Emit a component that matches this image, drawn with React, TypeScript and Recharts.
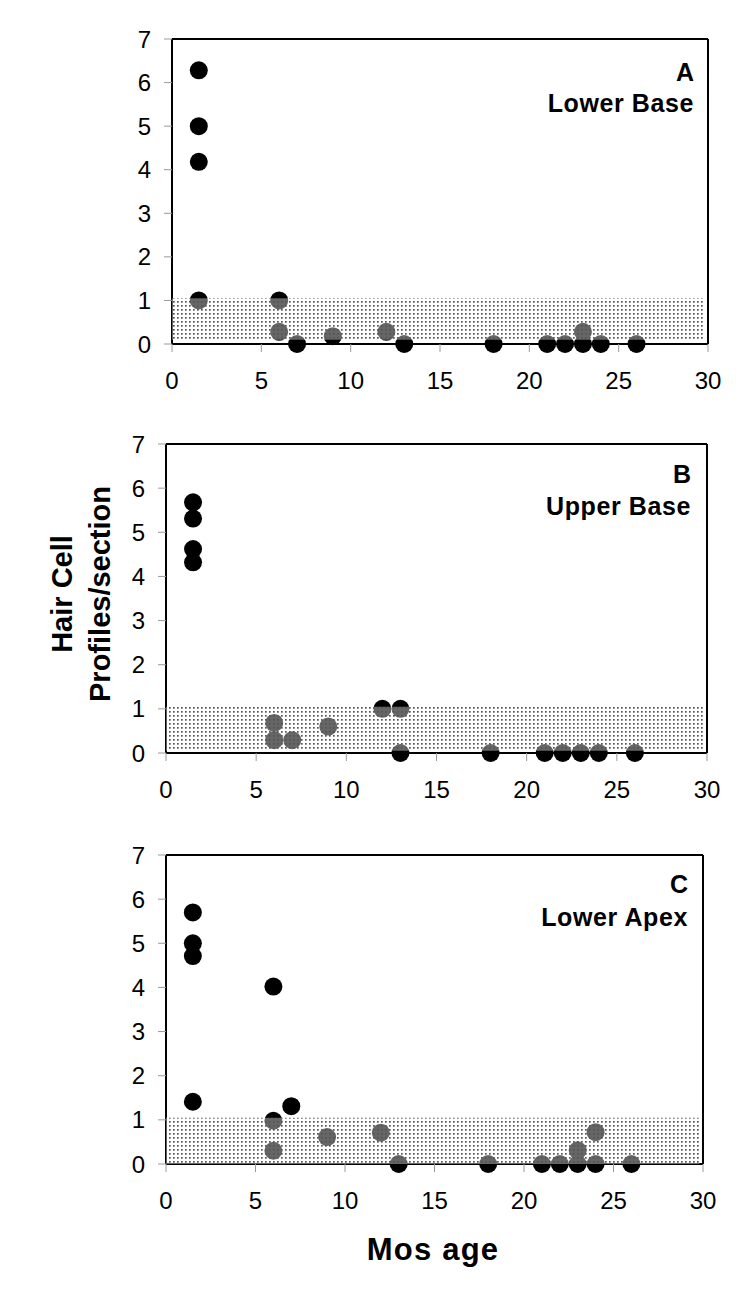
import React from "react";
import {
  ScatterChart,
  Scatter,
  XAxis,
  YAxis,
  ReferenceArea,
  ReferenceLine,
} from "recharts";

// Panel A – Lower Base
const agesA = [1.5, 1.5, 1.5, 1.5, 6, 6, 7, 9, 12, 13, 18, 21, 22, 23, 23, 24, 26];
const countsA = [6.28, 5.0, 4.18, 1.0, 1.0, 0.28, 0, 0.18, 0.28, 0, 0, 0, 0, 0.28, 0, 0, 0];

// Panel B – Upper Base
const agesB = [1.5, 1.5, 1.5, 1.5, 6, 6, 7, 9, 12, 13, 13, 18, 21, 22, 23, 24, 26];
const countsB = [5.68, 5.31, 4.62, 4.32, 0.68, 0.29, 0.29, 0.6, 1.0, 1.0, 0, 0, 0, 0, 0, 0, 0];

// Panel C – Lower Apex
const agesC = [1.5, 1.5, 1.5, 1.5, 6, 6, 6, 7, 9, 12, 13, 18, 21, 22, 23, 23, 24, 24, 26];
const countsC = [5.7, 5.0, 4.71, 1.41, 4.02, 0.98, 0.3, 1.31, 0.61, 0.71, 0, 0, 0, 0, 0.31, 0, 0.72, 0, 0];

const xTicks = [0, 5, 10, 15, 20, 25, 30];
const yTicks = [0, 1, 2, 3, 4, 5, 6, 7];

const panelLetters = ["A", "B", "C"];
const panelNames = ["Lower Base", "Upper Base", "Lower Apex"];
const yTitleLines = ["Hair Cell", "Profiles/section"];
const xTitle = "Mos age";

const FONT = "'Liberation Sans', Arial, Helvetica, sans-serif";

type PanelCfg = {
  id: string;
  ages: number[];
  counts: number[];
  top: number;
  marginTop: number;
  yAxisWidth: number;
  marginRight: number;
  xAxisHeight: number;
  shadeBottom: number;
  letter: string;
  name: string;
  letterY: number;
  nameY: number;
  textRight: number;
};

const Dot = (props: any) => {
  const { cx, cy } = props;
  if (cx == null || cy == null) return null;
  return <circle cx={cx} cy={cy} r={9} fill="#000" />;
};

function Panel(p: PanelCfg) {
  const data = p.ages.map((a, i) => ({ age: a, count: p.counts[i] }));
  const tickStyle = { fill: "#000", fontSize: 24, fontFamily: FONT };
  return (
    <div style={{ position: "absolute", left: 0, top: p.top, width: 750, height: 410 }}>
      <ScatterChart
        width={750}
        height={410}
        margin={{ top: p.marginTop, right: p.marginRight, left: 0, bottom: 0 }}
        style={{ overflow: "visible" }}
      >
        <defs>
          <pattern id={`stip${p.id}`} width={4} height={4} patternUnits="userSpaceOnUse">
            <rect x={0} y={0} width={4} height={4} fill="#ffffff" fillOpacity={0.4} />
            <rect x={1} y={1} width={1.7} height={1.7} fill="#555555" />
          </pattern>
        </defs>
        <XAxis
          type="number"
          dataKey="age"
          domain={[0, 30]}
          ticks={xTicks}
          interval={0}
          height={p.xAxisHeight}
          axisLine={{ stroke: "#000", strokeWidth: 2 }}
          tickLine={{ stroke: "#9a9a9a", strokeWidth: 1 }}
          tickSize={8}
          tickMargin={20}
          tick={tickStyle}
        />
        <YAxis
          type="number"
          dataKey="count"
          domain={[0, 7]}
          ticks={yTicks}
          interval={0}
          width={p.yAxisWidth}
          axisLine={{ stroke: "#000", strokeWidth: 2 }}
          tickLine={{ stroke: "#9a9a9a", strokeWidth: 1 }}
          tickSize={8}
          tickMargin={13}
          tick={tickStyle}
        />
        <ReferenceLine y={7} stroke="#000" strokeWidth={2} />
        <ReferenceLine x={30} stroke="#000" strokeWidth={2} />
        <Scatter data={data} shape={<Dot />} isAnimationActive={false} />
        <ReferenceArea
          x1={0}
          x2={29.8}
          y1={p.shadeBottom}
          y2={1.05}
          fill={`url(#stip${p.id})`}
          fillOpacity={1}
          stroke="none"
          zIndex={1000}
        />
      </ScatterChart>
      <div
        style={{
          position: "absolute",
          right: 750 - p.textRight,
          top: p.letterY - 14,
          fontFamily: FONT,
          fontWeight: "bold",
          fontSize: 25,
          lineHeight: "28px",
          textAlign: "right",
          color: "#000",
        }}
      >
        {p.letter}
      </div>
      <div
        style={{
          position: "absolute",
          right: 750 - p.textRight,
          top: p.nameY - 14,
          fontFamily: FONT,
          fontWeight: "bold",
          fontSize: 25,
          lineHeight: "28px",
          letterSpacing: 0.6,
          textAlign: "right",
          whiteSpace: "nowrap",
          color: "#000",
        }}
      >
        {p.name}
      </div>
    </div>
  );
}

export default function App() {
  const panels: PanelCfg[] = [
    {
      id: "A",
      ages: agesA,
      counts: countsA,
      top: 0,
      marginTop: 39,
      yAxisWidth: 172,
      marginRight: 42,
      xAxisHeight: 66,
      shadeBottom: 0.1,
      letter: panelLetters[0],
      name: panelNames[0],
      letterY: 72,
      nameY: 103,
      textRight: 694,
    },
    {
      id: "B",
      ages: agesB,
      counts: countsB,
      top: 410,
      marginTop: 34,
      yAxisWidth: 166,
      marginRight: 43,
      xAxisHeight: 67,
      shadeBottom: 0.05,
      letter: panelLetters[1],
      name: panelNames[1],
      letterY: 474 - 410,
      nameY: 506 - 410,
      textRight: 691,
    },
    {
      id: "C",
      ages: agesC,
      counts: countsC,
      top: 820,
      marginTop: 35,
      yAxisWidth: 166,
      marginRight: 47,
      xAxisHeight: 66,
      shadeBottom: 0.0,
      letter: panelLetters[2],
      name: panelNames[2],
      letterY: 884 - 820,
      nameY: 917 - 820,
      textRight: 688,
    },
  ];
  return (
    <div
      style={{
        position: "absolute",
        left: 0,
        top: 0,
        width: 750,
        height: 1297,
        background: "#fff",
        overflow: "hidden",
      }}
    >
      {panels.map((p) => (
        <Panel key={p.id} {...p} />
      ))}
      <div
        style={{
          position: "absolute",
          left: 81,
          top: 594,
          width: 0,
          height: 0,
        }}
      >
        <div
          style={{
            position: "absolute",
            left: -200,
            top: -38,
            width: 400,
            transform: "rotate(-90deg)",
            transformOrigin: "200px 38px",
            textAlign: "center",
            fontFamily: FONT,
            fontWeight: "bold",
            fontSize: 29,
            lineHeight: "38px",
            color: "#000",
          }}
        >
          <div>{yTitleLines[0]}</div>
          <div>{yTitleLines[1]}</div>
        </div>
      </div>
      <div
        style={{
          position: "absolute",
          left: 233,
          width: 400,
          top: 1232,
          textAlign: "center",
          fontFamily: FONT,
          fontWeight: "bold",
          fontSize: 31,
          letterSpacing: 1.2,
          lineHeight: "36px",
          color: "#000",
        }}
      >
        {xTitle}
      </div>
    </div>
  );
}
